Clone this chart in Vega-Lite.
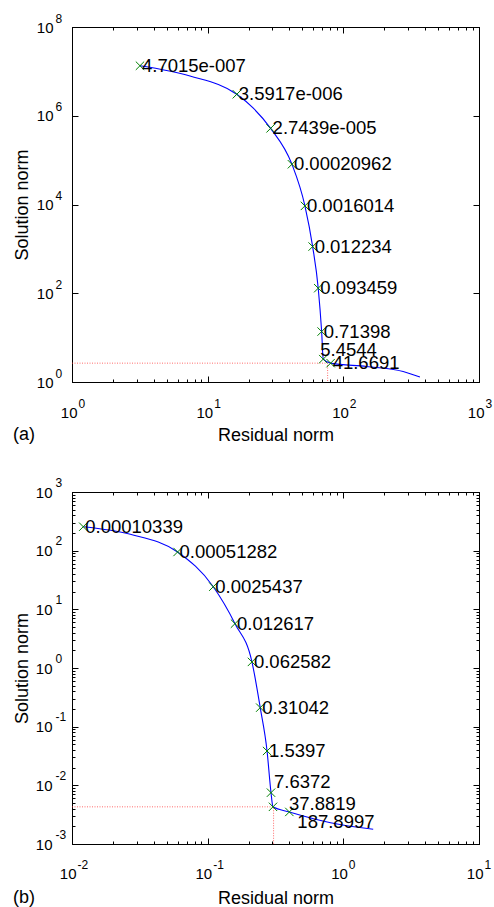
{
  "$schema": "https://vega.github.io/schema/vega-lite/v6.json",
  "padding": {"left": 12, "top": 11, "right": 0, "bottom": 0},
  "spacing": 30,
  "align": "none",
  "config": {
    "view": {"stroke": "black", "strokeWidth": 1},
    "axis": {"grid": false, "domainColor": "black", "domainWidth": 1, "tickColor": "black", "labelColor": "black", "titleColor": "black", "labelFont": "Liberation Sans", "titleFont": "Liberation Sans", "labelFontSize": 15, "titleFontSize": 18, "titleFontWeight": "normal", "labelFlush": false, "labelOverlap": false},
    "title": {"font": "Liberation Sans", "fontSize": 18, "fontWeight": "normal", "color": "black"}
  },
  "datasets": {
    "a_pts": [
      {"rho": 3.17, "eta": 13400000, "label": "4.7015e-007"},
      {"rho": 16.4, "eta": 3050000, "label": "3.5917e-006"},
      {"rho": 29.1, "eta": 520000, "label": "2.7439e-005"},
      {"rho": 41.8, "eta": 80700, "label": "0.00020962"},
      {"rho": 52.1, "eta": 9300, "label": "0.0016014"},
      {"rho": 59.4, "eta": 1127, "label": "0.012234"},
      {"rho": 65.3, "eta": 130, "label": "0.093459"},
      {"rho": 69.2, "eta": 13.7, "label": "0.71398"},
      {"rho": 71.1, "eta": 3.28, "label": "5.4544"},
      {"rho": 80.6, "eta": 2.66, "label": "41.6691"}
    ],
    "a_curve": [
      {"rho": 3.17, "eta": 13400000},
      {"rho": 7.41, "eta": 7870000},
      {"rho": 16.4, "eta": 3050000},
      {"rho": 21.7, "eta": 1480000},
      {"rho": 29.1, "eta": 520000},
      {"rho": 41.8, "eta": 80700},
      {"rho": 52.1, "eta": 9300},
      {"rho": 59.4, "eta": 1127},
      {"rho": 65.3, "eta": 130},
      {"rho": 69.2, "eta": 13.7},
      {"rho": 71.1, "eta": 3.28},
      {"rho": 80.6, "eta": 2.66},
      {"rho": 148.5, "eta": 2.23},
      {"rho": 276, "eta": 1.72},
      {"rho": 367, "eta": 1.29}
    ],
    "a_corner": [
      {"i": 1, "rho": 1, "eta": 2.66},
      {"i": 2, "rho": 76.6, "eta": 2.66},
      {"i": 3, "rho": 76.6, "eta": 1}
    ],
    "b_pts": [
      {"rho": 0.0121, "eta": 256, "label": "0.00010339"},
      {"rho": 0.06, "eta": 95, "label": "0.00051282"},
      {"rho": 0.11, "eta": 24.3, "label": "0.0025437"},
      {"rho": 0.159, "eta": 5.7, "label": "0.012617"},
      {"rho": 0.212, "eta": 1.27, "label": "0.062582"},
      {"rho": 0.244, "eta": 0.211, "label": "0.31042"},
      {"rho": 0.274, "eta": 0.0385, "label": "1.5397"},
      {"rho": 0.293, "eta": 0.0075, "label": "7.6372"},
      {"rho": 0.303, "eta": 0.0043, "label": "37.8819"},
      {"rho": 0.4, "eta": 0.00352, "label": "187.8997"}
    ],
    "b_curve": [
      {"rho": 0.0121, "eta": 256},
      {"rho": 0.0269, "eta": 190},
      {"rho": 0.06, "eta": 95},
      {"rho": 0.11, "eta": 24.3},
      {"rho": 0.159, "eta": 5.7},
      {"rho": 0.212, "eta": 1.27},
      {"rho": 0.244, "eta": 0.211},
      {"rho": 0.274, "eta": 0.0385},
      {"rho": 0.293, "eta": 0.0075},
      {"rho": 0.303, "eta": 0.0043},
      {"rho": 0.4, "eta": 0.00352},
      {"rho": 0.805, "eta": 0.00231},
      {"rho": 1.66, "eta": 0.00178}
    ],
    "b_corner": [
      {"i": 1, "rho": 0.01, "eta": 0.0043},
      {"i": 2, "rho": 0.306, "eta": 0.0043},
      {"i": 3, "rho": 0.306, "eta": 0.001}
    ]
  },
  "vconcat": [
    {
      "width": 407,
      "height": 355,
      "title": {"text": "(a)", "orient": "bottom", "anchor": "start", "frame": "bounds", "offset": -18},
      "resolve": {"axis": {"x": "independent", "y": "independent"}},
      "layer": [
        {
          "data": {"name": "a_curve"},
          "mark": {"type": "line", "color": "#0000ff", "strokeWidth": 1.1, "interpolate": "monotone", "clip": true},
          "encoding": {
            "x": {"field": "rho", "type": "quantitative",
              "scale": {"type": "log", "domain": [1, 1000], "nice": false},
              "axis": {"orient": "bottom", "title": null, "labels": false, "values": [1,2,3,4,5,6,7,8,9,10,20,30,40,50,60,70,80,90,100,200,300,400,500,600,700,800,900,1000],
                "tickSize": {"condition": {"test": "abs(log(datum.value)/LN10-round(log(datum.value)/LN10))<0.001", "value": -6}, "value": -3}}},
            "y": {"field": "eta", "type": "quantitative",
              "scale": {"type": "log", "domain": [1, 100000000], "nice": false},
              "axis": {"orient": "left", "title": null, "labels": false, "values": [1, 100, 10000, 1000000, 100000000], "tickSize": -6}}
          }
        },
        {
          "data": {"name": "a_corner"},
          "mark": {"type": "line", "color": "#ff3030", "strokeWidth": 0.9, "strokeDash": [1, 1.5], "opacity": 0.8},
          "encoding": {
            "x": {"field": "rho", "type": "quantitative",
              "axis": {"orient": "top", "title": null, "labels": false, "values": [1,2,3,4,5,6,7,8,9,10,20,30,40,50,60,70,80,90,100,200,300,400,500,600,700,800,900,1000],
                "tickSize": {"condition": {"test": "abs(log(datum.value)/LN10-round(log(datum.value)/LN10))<0.001", "value": -6}, "value": -3}}},
            "y": {"field": "eta", "type": "quantitative",
              "axis": {"orient": "right", "title": null, "labels": false, "values": [1, 100, 10000, 1000000, 100000000], "tickSize": -6}},
            "order": {"field": "i", "type": "quantitative"}
          }
        },
        {
          "data": {"name": "a_pts"},
          "mark": {"type": "point", "shape": "M-1,-1L1,1M-1,1L1,-1", "filled": false, "color": "#008000", "strokeWidth": 1, "size": 70, "opacity": 1},
          "encoding": {
            "x": {"field": "rho", "type": "quantitative", "title": "Residual norm",
              "axis": {"orient": "bottom", "values": [1, 10, 100, 1000], "labelExpr": "'10'", "ticks": false, "tickSize": 0, "domain": false,
                "labelAlign": "right", "labelBaseline": "middle", "labelOffset": 5, "labelPadding": 30, "titlePadding": 6}},
            "y": {"field": "eta", "type": "quantitative", "title": "Solution norm",
              "axis": {"orient": "left", "values": [1, 100, 10000, 1000000, 100000000], "labelExpr": "'10'", "ticks": false, "tickSize": 0, "domain": false,
                "labelAlign": "right", "labelBaseline": "middle", "labelPadding": 19, "minExtent": 36, "maxExtent": 36, "titlePadding": 5}}
          }
        },
        {
          "data": {"name": "a_pts"},
          "transform": [{"filter": {"not": {"field": "label", "oneOf": ["5.4544", "41.6691"]}}}],
          "mark": {"type": "text", "align": "left", "baseline": "middle", "dx": 2, "font": "Liberation Sans", "fontSize": 18.5, "color": "black"},
          "encoding": {
            "x": {"field": "rho", "type": "quantitative",
              "axis": {"orient": "bottom", "title": null, "values": [1, 10, 100, 1000], "labelExpr": "''+round(log(datum.value)/LN10)", "ticks": false, "tickSize": 0, "domain": false,
                "labelFontSize": 12, "labelAlign": "left", "labelBaseline": "middle", "labelOffset": 6, "labelPadding": 21}},
            "y": {"field": "eta", "type": "quantitative",
              "axis": {"orient": "left", "title": null, "values": [1, 100, 10000, 1000000, 100000000], "labelExpr": "''+round(log(datum.value)/LN10)", "ticks": false, "tickSize": 0, "domain": false,
                "labelFontSize": 12, "labelAlign": "left", "labelBaseline": "middle", "labelOffset": -9, "labelPadding": 17}},
            "text": {"field": "label"}
          }
        },
        {
          "data": {"name": "a_pts"},
          "transform": [{"filter": {"field": "label", "equal": "5.4544"}}],
          "mark": {"type": "text", "align": "left", "baseline": "middle", "dx": -3, "dy": -9, "font": "Liberation Sans", "fontSize": 18.5, "color": "black"},
          "encoding": {
            "x": {"field": "rho", "type": "quantitative", "axis": null},
            "y": {"field": "eta", "type": "quantitative", "axis": null},
            "text": {"field": "label"}
          }
        },
        {
          "data": {"name": "a_pts"},
          "transform": [{"filter": {"field": "label", "equal": "41.6691"}}],
          "mark": {"type": "text", "align": "left", "baseline": "middle", "dx": 2, "dy": 0, "font": "Liberation Sans", "fontSize": 18.5, "color": "black"},
          "encoding": {
            "x": {"field": "rho", "type": "quantitative", "axis": null},
            "y": {"field": "eta", "type": "quantitative", "axis": null},
            "text": {"field": "label"}
          }
        }
      ]
    },
    {
      "width": 407,
      "height": 352,
      "title": {"text": "(b)", "orient": "bottom", "anchor": "start", "frame": "bounds", "offset": -18},
      "resolve": {"axis": {"x": "independent", "y": "independent"}},
      "layer": [
        {
          "data": {"name": "b_curve"},
          "mark": {"type": "line", "color": "#0000ff", "strokeWidth": 1.1, "interpolate": "monotone", "clip": true},
          "encoding": {
            "x": {"field": "rho", "type": "quantitative",
              "scale": {"type": "log", "domain": [0.01, 10], "nice": false},
              "axis": {"orient": "bottom", "title": null, "labels": false, "values": [0.01,0.02,0.03,0.04,0.05,0.06,0.07,0.08,0.09,0.1,0.2,0.3,0.4,0.5,0.6,0.7,0.8,0.9,1,2,3,4,5,6,7,8,9,10],
                "tickSize": {"condition": {"test": "abs(log(datum.value)/LN10-round(log(datum.value)/LN10))<0.001", "value": -6}, "value": -3}}},
            "y": {"field": "eta", "type": "quantitative",
              "scale": {"type": "log", "domain": [0.001, 1000], "nice": false},
              "axis": {"orient": "left", "title": null, "labels": false, "values": [0.001,0.002,0.003,0.004,0.005,0.006,0.007,0.008,0.009,0.01,0.02,0.03,0.04,0.05,0.06,0.07,0.08,0.09,0.1,0.2,0.3,0.4,0.5,0.6,0.7,0.8,0.9,1,2,3,4,5,6,7,8,9,10,20,30,40,50,60,70,80,90,100,200,300,400,500,600,700,800,900,1000],
                "tickSize": {"condition": {"test": "abs(log(datum.value)/LN10-round(log(datum.value)/LN10))<0.001", "value": -6}, "value": -3}}}
          }
        },
        {
          "data": {"name": "b_corner"},
          "mark": {"type": "line", "color": "#ff3030", "strokeWidth": 0.9, "strokeDash": [1, 1.5], "opacity": 0.8},
          "encoding": {
            "x": {"field": "rho", "type": "quantitative",
              "axis": {"orient": "top", "title": null, "labels": false, "values": [0.01,0.02,0.03,0.04,0.05,0.06,0.07,0.08,0.09,0.1,0.2,0.3,0.4,0.5,0.6,0.7,0.8,0.9,1,2,3,4,5,6,7,8,9,10],
                "tickSize": {"condition": {"test": "abs(log(datum.value)/LN10-round(log(datum.value)/LN10))<0.001", "value": -6}, "value": -3}}},
            "y": {"field": "eta", "type": "quantitative",
              "axis": {"orient": "right", "title": null, "labels": false, "values": [0.001,0.002,0.003,0.004,0.005,0.006,0.007,0.008,0.009,0.01,0.02,0.03,0.04,0.05,0.06,0.07,0.08,0.09,0.1,0.2,0.3,0.4,0.5,0.6,0.7,0.8,0.9,1,2,3,4,5,6,7,8,9,10,20,30,40,50,60,70,80,90,100,200,300,400,500,600,700,800,900,1000],
                "tickSize": {"condition": {"test": "abs(log(datum.value)/LN10-round(log(datum.value)/LN10))<0.001", "value": -6}, "value": -3}}},
            "order": {"field": "i", "type": "quantitative"}
          }
        },
        {
          "data": {"name": "b_pts"},
          "mark": {"type": "point", "shape": "M-1,-1L1,1M-1,1L1,-1", "filled": false, "color": "#008000", "strokeWidth": 1, "size": 70, "opacity": 1},
          "encoding": {
            "x": {"field": "rho", "type": "quantitative", "title": "Residual norm",
              "axis": {"orient": "bottom", "values": [0.01, 0.1, 1, 10], "labelExpr": "'10'", "ticks": false, "tickSize": 0, "domain": false,
                "labelAlign": "right", "labelBaseline": "middle", "labelOffset": 4, "labelPadding": 29, "titlePadding": 8}},
            "y": {"field": "eta", "type": "quantitative", "title": "Solution norm",
              "axis": {"orient": "left", "values": [0.001, 0.01, 0.1, 1, 10, 100, 1000], "labelExpr": "'10'", "ticks": false, "tickSize": 0, "domain": false,
                "labelAlign": "right", "labelBaseline": "middle", "labelPadding": 20, "minExtent": 36, "maxExtent": 36, "titlePadding": 5}}
          }
        },
        {
          "data": {"name": "b_pts"},
          "transform": [{"filter": {"not": {"field": "label", "oneOf": ["7.6372", "37.8819", "187.8997"]}}}],
          "mark": {"type": "text", "align": "left", "baseline": "middle", "dx": 2, "font": "Liberation Sans", "fontSize": 18.5, "color": "black"},
          "encoding": {
            "x": {"field": "rho", "type": "quantitative",
              "axis": {"orient": "bottom", "title": null, "values": [0.01, 0.1, 1, 10], "labelExpr": "''+round(log(datum.value)/LN10)", "ticks": false, "tickSize": 0, "domain": false,
                "labelFontSize": 12, "labelAlign": "left", "labelBaseline": "middle", "labelOffset": 5, "labelPadding": 20}},
            "y": {"field": "eta", "type": "quantitative",
              "axis": {"orient": "left", "title": null, "values": [0.001, 0.01, 0.1, 1, 10, 100, 1000], "labelExpr": "''+round(log(datum.value)/LN10)", "ticks": false, "tickSize": 0, "domain": false,
                "labelFontSize": 12, "labelAlign": "left", "labelBaseline": "middle", "labelOffset": -10, "labelPadding": 17}},
            "text": {"field": "label"}
          }
        },
        {
          "data": {"name": "b_pts"},
          "transform": [{"filter": {"field": "label", "equal": "7.6372"}}],
          "mark": {"type": "text", "align": "left", "baseline": "middle", "dx": 3, "dy": -11, "font": "Liberation Sans", "fontSize": 18.5, "color": "black"},
          "encoding": {
            "x": {"field": "rho", "type": "quantitative", "axis": null},
            "y": {"field": "eta", "type": "quantitative", "axis": null},
            "text": {"field": "label"}
          }
        },
        {
          "data": {"name": "b_pts"},
          "transform": [{"filter": {"field": "label", "equal": "37.8819"}}],
          "mark": {"type": "text", "align": "left", "baseline": "middle", "dx": 16, "dy": -3, "font": "Liberation Sans", "fontSize": 18.5, "color": "black"},
          "encoding": {
            "x": {"field": "rho", "type": "quantitative", "axis": null},
            "y": {"field": "eta", "type": "quantitative", "axis": null},
            "text": {"field": "label"}
          }
        },
        {
          "data": {"name": "b_pts"},
          "transform": [{"filter": {"field": "label", "equal": "187.8997"}}],
          "mark": {"type": "text", "align": "left", "baseline": "middle", "dx": 8, "dy": 10, "font": "Liberation Sans", "fontSize": 18.5, "color": "black"},
          "encoding": {
            "x": {"field": "rho", "type": "quantitative", "axis": null},
            "y": {"field": "eta", "type": "quantitative", "axis": null},
            "text": {"field": "label"}
          }
        }
      ]
    }
  ]
}
